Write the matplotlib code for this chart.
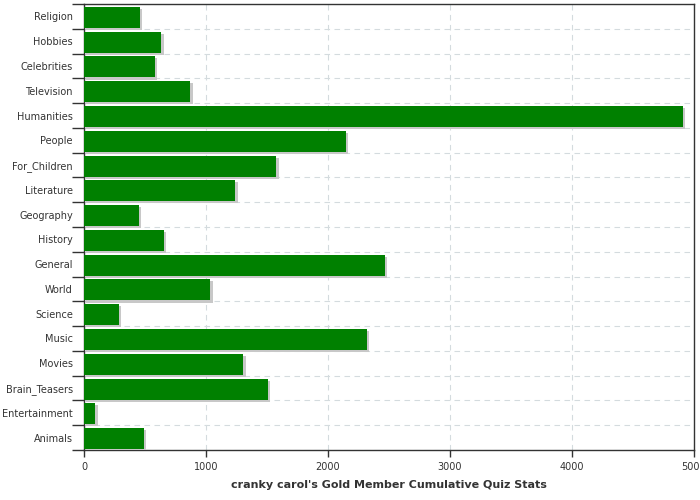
import matplotlib.pyplot as plt
import matplotlib.patheffects as pe
import numpy as np

categories = ["Religion", "Hobbies", "Celebrities", "Television", "Humanities",
              "People", "For_Children", "Literature", "Geography", "History",
              "General", "World", "Science", "Music", "Movies", "Brain_Teasers",
              "Entertainment", "Animals"]
values = [460, 635, 585, 873, 4912, 2152, 1578, 1242, 447, 652,
          2471, 1037, 283, 2324, 1308, 1505, 94, 488]
xticks = [0, 1000, 2000, 3000, 4000, 5000]

fig = plt.figure(figsize=(7, 5), dpi=100)
ax = fig.add_axes([0.12, 0.1, 0.871, 0.892])

y = np.arange(len(categories))
ax.barh(y + 0.04, values, height=0.85, color="#008000", zorder=3,
        path_effects=[pe.SimplePatchShadow(offset=(1.5, -1.5), shadow_rgbFace="#c8c8c8", alpha=1),
                      pe.Normal()])

ax.set_ylim(len(categories) - 0.5, -0.5)
ax.set_xlim(0, 5000)
ax.set_yticks(y)
ax.set_yticklabels(categories)
ax.set_yticks(np.arange(len(categories) + 1) - 0.5, minor=True)
ax.tick_params(axis="y", which="major", length=0, pad=8, labelsize=7, labelcolor="#333333")
ax.tick_params(axis="y", which="minor", length=9, width=1, color="#333333")
ax.set_xticks(xticks)
ax.tick_params(axis="x", length=5, width=1, color="#333333", labelsize=7, labelcolor="#333333")

ax.grid(True, axis="x", which="major", linestyle=(0, (5, 4)), color="#d4dbde", linewidth=0.8, zorder=0)
ax.grid(True, axis="y", which="minor", linestyle=(0, (5, 4)), color="#d4dbde", linewidth=0.8, zorder=0)

for s in ax.spines.values():
    s.set_color("#333333")
    s.set_linewidth(1)

ax.set_xlabel("cranky carol's Gold Member Cumulative Quiz Stats", fontsize=8,
              fontweight="bold", color="#333333", labelpad=6)

fig.savefig("out.png", dpi=100)
